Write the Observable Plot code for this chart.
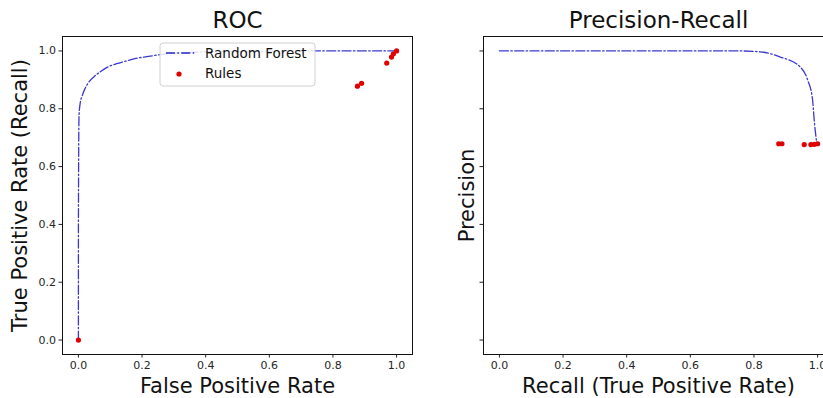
<!DOCTYPE html>
<html><head><meta charset="utf-8">
<script src="https://cdn.jsdelivr.net/npm/d3@7"></script>
<script src="https://cdn.jsdelivr.net/npm/@observablehq/plot@0.6"></script>
<style>
body{margin:0;background:#fff;overflow:hidden;width:823px;height:398px;position:relative;font-family:"DejaVu Sans",sans-serif;}
.p{position:absolute;top:0;width:420px;height:398px;}
.p svg{max-width:none !important;}
</style></head><body>
<div id="left" class="p" style="left:0"></div>
<div id="right" class="p" style="left:420px"></div>
<script>
// ROC curve (Random Forest)
const rocFPR = [0, 0, 0.002, 0.006, 0.012, 0.02, 0.031, 0.05, 0.069, 0.09, 0.12, 0.15, 0.18, 0.22, 0.26, 0.32, 0.40, 0.55, 0.75, 1.0];
const rocTPR = [0, 0.40, 0.78, 0.822, 0.845, 0.868, 0.89, 0.912, 0.928, 0.943, 0.956, 0.965, 0.974, 0.981, 0.988, 0.993, 0.997, 0.999, 1.0, 1.0];
// Precision-recall curve (Random Forest)
const prRecall = [0, 0.2, 0.4, 0.6, 0.757, 0.82, 0.883, 0.946, 0.968, 0.984, 0.99, 0.997];
const prPrecision = [1.0, 1.0, 1.0, 1.0, 1.0, 0.997, 0.979, 0.944, 0.902, 0.833, 0.753, 0.683];
// Rules
const ruleFPR = [0, 0.877, 0.89, 0.969, 0.984, 0.99, 1.0];
const ruleTPR = [0, 0.878, 0.888, 0.958, 0.979, 0.99, 1.0];
const rulePrecision = [null, 0.679, 0.679, 0.676, 0.676, 0.677, 0.679];
const xTicks = [0, 0.2, 0.4, 0.6, 0.8, 1.0];
const yTicks = [0, 0.2, 0.4, 0.6, 0.8, 1.0];

const roc = rocFPR.map((x, i) => ({x, y: rocTPR[i]}));
const pr = prRecall.map((x, i) => ({x, y: prPrecision[i]}));
const rulesRoc = ruleFPR.map((x, i) => ({x, y: ruleTPR[i]}));
const rulesPr = ruleTPR.map((x, i) => ({x, y: rulePrecision[i]})).filter(d => d.y != null);

const lineColor = "#2424cc";
const dash = "9,2.4,1.5,2.4";
const fmt = d3.format(".1f");

function panel({data, rules, title, xlabel, ylabel, ylabelDx, showYLabels, marginLeft, width}) {
  return Plot.plot({
    width, height: 398,
    marginLeft, marginRight: width - marginLeft - 350, marginTop: 36, marginBottom: 44,
    style: {fontFamily: "DejaVu Sans", fontSize: "11px", color: "#262626", background: "transparent", overflow: "visible", maxWidth: "none"},
    x: {domain: [-0.05, 1.05], ticks: xTicks},
    y: {domain: [-0.05, 1.05], ticks: yTicks},
    marks: [
      Plot.line(data, {x: "x", y: "y", stroke: lineColor, strokeWidth: 1.3, strokeDasharray: dash, curve: "monotone-x", strokeOpacity: 0.9}),
      Plot.dot(rules, {x: "x", y: "y", r: 2.6, fill: "#e00000", stroke: "none"}),
      Plot.frame({stroke: "#111", strokeWidth: 1}),
      Plot.axisX({ticks: xTicks, tickFormat: fmt, tickSize: 3.5, tickPadding: 3, label: null, stroke: "#222"}),
      Plot.axisY({ticks: yTicks, tickFormat: showYLabels ? fmt : () => "", tickSize: 3.5, tickPadding: 3, label: null, stroke: "#222"}),
      Plot.text([title], {frameAnchor: "top", dy: -16, fontSize: 23, fill: "#111", lineAnchor: "middle", text: d => d}),
      Plot.text([xlabel], {frameAnchor: "bottom", dy: 32, fontSize: 21, fill: "#111", lineAnchor: "middle", text: d => d}),
      Plot.text([ylabel], {frameAnchor: "left", dx: ylabelDx, rotate: -90, fontSize: 21, fill: "#111", textAnchor: "middle", lineAnchor: "middle", text: d => d})
    ]
  });
}

const left = panel({data: roc, rules: rulesRoc, title: "ROC", xlabel: "False Positive Rate",
  ylabel: "True Positive Rate (Recall)", ylabelDx: -42, showYLabels: true, marginLeft: 62, width: 420});
const right = panel({data: pr, rules: rulesPr, title: "Precision-Recall", xlabel: "Recall (True Positive Rate)",
  ylabel: "Precision", ylabelDx: -16, showYLabels: false, marginLeft: 63, width: 420});

document.getElementById("left").append(left);
document.getElementById("right").append(right);

// legend on the ROC panel
const svg = d3.select(left);
const lg = svg.append("g").attr("font-family", "DejaVu Sans").attr("font-size", 13.5).attr("text-anchor", "start");
lg.append("rect").attr("x", 160).attr("y", 43).attr("width", 155).attr("height", 43).attr("rx", 3)
  .attr("fill", "white").attr("fill-opacity", 0.85).attr("stroke", "#d0d0d0");
lg.append("line").attr("x1", 166).attr("x2", 196).attr("y1", 53).attr("y2", 53)
  .attr("stroke", lineColor).attr("stroke-width", 1.3).attr("stroke-dasharray", dash);
lg.append("text").attr("x", 205).attr("y", 53).attr("dy", "0.35em").attr("fill", "#111").text("Random Forest");
lg.append("circle").attr("cx", 179).attr("cy", 74).attr("r", 2.6).attr("fill", "#e00000");
lg.append("text").attr("x", 205).attr("y", 73).attr("dy", "0.35em").attr("fill", "#111").text("Rules");
</script>
</body></html>
